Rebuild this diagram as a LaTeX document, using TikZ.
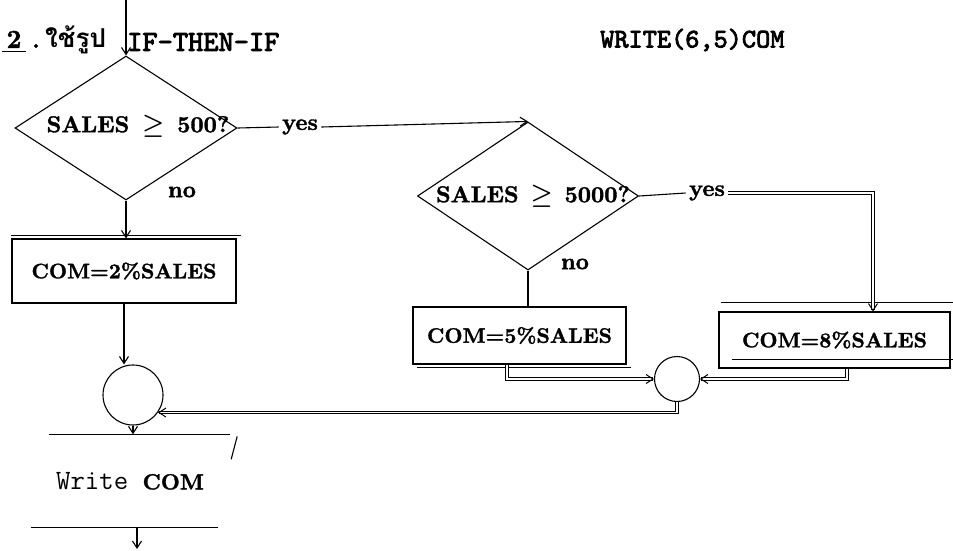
\documentclass[tikz,border=0pt]{standalone}
\usepackage{fontspec}
\usepackage{amssymb}
\usetikzlibrary{arrows.meta,positioning,shapes.geometric}
\newfontfamily\thaifont[Script=Thai]{Loma}
\newfontfamily\ttheavy{lmmono10-regular.otf}[FakeBold=3]
\newfontfamily\rmheavy{lmroman10-bold.otf}[FakeBold=1.5]

\tikzset{
  flow/.style={line width=1.1pt},
  arr/.style={flow, -{Straight Barb[length=7pt,width=9pt]}},
  dbl/.style={double, double distance=1.5pt, line width=1pt},
  decide/.style={draw, diamond, line width=1.1pt, inner sep=0pt},
  procbox/.style={draw, rectangle, line width=1.1pt, inner sep=0pt,
    font=\rmheavy\fontsize{21}{25}\selectfont},
  junction/.style={draw, circle, line width=1.1pt, inner sep=0pt},
  lbl/.style={font=\rmheavy\boldmath\fontsize{23}{27}\selectfont},
  ttlbl/.style={font=\ttheavy\fontsize{29}{34}\selectfont}
}

\begin{document}
\begin{tikzpicture}[x=1pt,y=-1pt]
\useasboundingbox (0,0) rectangle (953,550);
% ---------- heading
\node[lbl, inner sep=0, font=\rmheavy\fontsize{26}{30}\selectfont] (num) at (14,42) {\underline{\,2\,}};
\node[lbl, inner sep=0] (dot) at (36,46) {.};
\node[font=\thaifont\bfseries\fontsize{26}{30}\selectfont, inner sep=0, anchor=west] (thai) at (45,40) {ใช้รูป};
\node[ttlbl, inner sep=0, anchor=west] (ifhead) at (127,42) {IF-THEN-IF};
\node[ttlbl, inner sep=0, anchor=west, font=\ttheavy\fontsize{27}{32}\selectfont] (wrhead) at (600,40) {WRITE(6,5)COM};

% ---------- decisions
\coordinate (entry) at (126,0);
\node[decide, minimum width=222pt, minimum height=144pt] (d1) at (126,128) {};
\node[lbl] (d1txt) at (138,126) {SALES\hspace{4pt} $\geq$\hspace{4pt} 500?};
\node[decide, minimum width=221pt, minimum height=148pt] (d2) at (528,196) {};
\node[lbl] (d2txt) at (533,196) {SALES\hspace{3pt} $\geq$\hspace{3pt} 5000?};
\node[lbl] (yes1) at (300,127) {yes};
\node[lbl] (yes2) at (707,193) {yes};
\node[lbl] (no1) at (182,192) {no};
\node[lbl] (no2) at (575,264) {no};

% ---------- process boxes
\node[procbox, minimum width=224pt, minimum height=64pt] (box1) at (124,271) {COM=2\%SALES};
\node[procbox, minimum width=213pt, minimum height=57pt] (box5) at (519.5,335.5) {COM=5\%SALES};
\node[procbox, minimum width=231pt, minimum height=56pt] (box8) at (834.5,340) {COM=8\%SALES};
\draw[flow] ([yshift=3pt]box1.north west) -- ([xshift=4pt,yshift=3pt]box1.north east);
\draw[flow] ([xshift=5pt,yshift=-3pt]box5.south west) -- ([xshift=4pt,yshift=-3pt]box5.south east);
\draw[flow] ([xshift=3pt,yshift=9pt]box8.north west) -- ([xshift=3pt,yshift=9pt]box8.north east);
\draw[flow] ([xshift=14pt,yshift=9pt]box8.south west) -- ([xshift=3pt,yshift=9pt]box8.south east);

% ---------- joins and output
\node[junction, minimum size=60pt] (c1) at (133,395) {};
\node[junction, minimum size=45pt] (c2) at (677,379) {};
\node[inner sep=0, minimum width=181pt, minimum height=93pt] (wr) at (130,481)
  {\ttfamily\fontsize{28}{32}\selectfont Write {\rmheavy\fontsize{22}{26}\selectfont COM}};
\draw[flow] ([xshift=9.5pt]wr.north west) -- ([xshift=9.5pt]wr.north east);
\draw[flow] ([xshift=16.5pt,yshift=-2pt]wr.north east) -- ([xshift=10.5pt,yshift=-25pt]wr.north east);
\draw[flow] ([xshift=-8.5pt]wr.south west) -- ([xshift=-2.5pt]wr.south east);
\coordinate (exit) at (137,549);

% ---------- connectors
\draw[arr] (entry) -- (d1.north);
\draw[flow] (d1.east) -- (yes1.west);
\draw[arr] (yes1.east) -- (d2.north);
\draw[arr] (d1.south) -- (d1.south |- box1.north);
\draw[arr] (box1.south) -- (box1.south |- c1.north);
\draw[arr] (c1.south) -- (c1.south |- wr.north);
\draw[arr] (exit |- wr.south) -- (exit);
\draw[flow] (d2.south) -- (d2.south |- box5.north);
\draw[flow] (d2.east) -- (yes2.west);
\draw[arr, dbl] (yes2.east) -| ([xshift=38.5pt]box8.north);
\draw[arr, dbl] ([xshift=-12.5pt]box5.south) |- (c2.west);
\draw[arr, dbl] ([xshift=12.5pt]box8.south) |- (c2.east);
\draw[arr, dbl] (c2.south) |- (c1.-35);
\end{tikzpicture}
\end{document}
